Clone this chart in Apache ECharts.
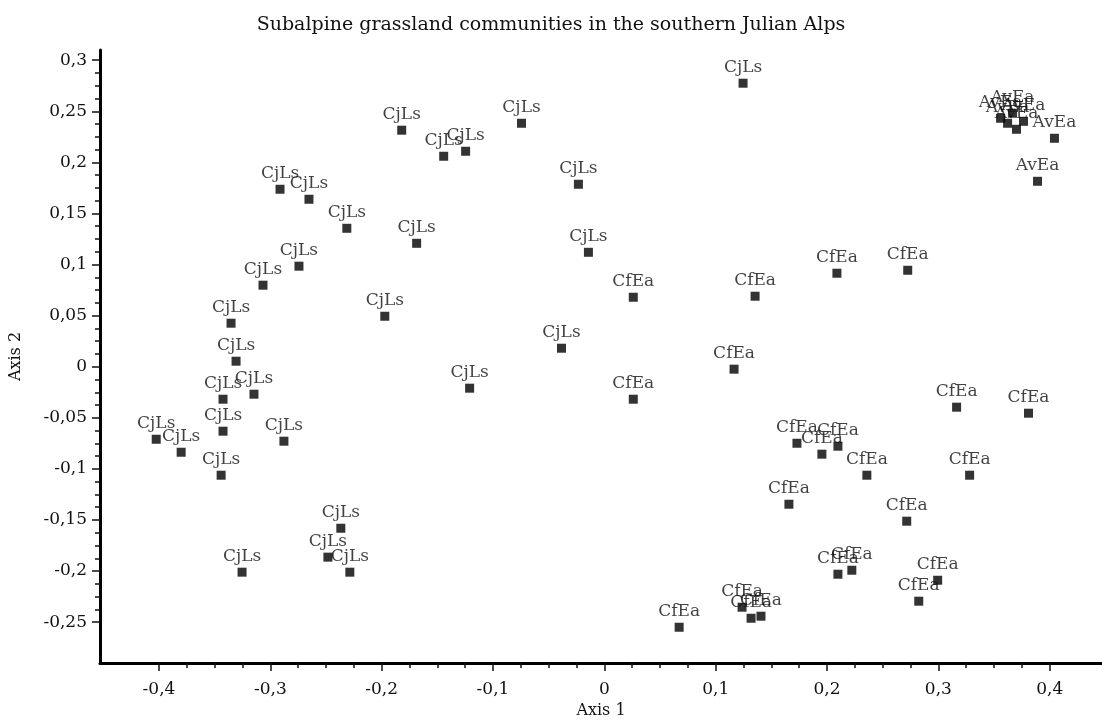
<!DOCTYPE html>
<html>
<head>
<meta charset="utf-8">
<title>Subalpine grassland communities</title>
<script src="https://cdn.jsdelivr.net/npm/echarts@6/dist/echarts.min.js"></script>
<style>
  html, body { margin: 0; padding: 0; background: #fff; }
  #chart { width: 1102px; height: 728px; }
</style>
</head>
<body>
<div id="chart"></div>
<script>
// 群落名称
const groups = ['CjLs', 'CfEa', 'AvEa'];

// CjLs 样点
const cjlsX = [0.1246, -0.182, -0.1443, -0.1246, -0.0744, -0.0233, -0.0143, -0.2913, -0.2653, -0.2313,
  -0.1686, -0.2743, -0.3066, -0.3353, -0.1972, -0.3308, -0.3425, -0.3147, -0.3425, -0.4025,
  -0.3801, -0.2878, -0.3442, -0.0385, -0.121, -0.2367, -0.2483, -0.3254, -0.2286];
const cjlsY = [0.2775, 0.2315, 0.206, 0.2109, 0.2383, 0.1786, 0.112, 0.1737, 0.1639, 0.1355,
  0.1208, 0.0984, 0.0798, 0.0426, 0.0494, 0.0054, -0.0318, -0.0269, -0.0631, -0.071,
  -0.0837, -0.0729, -0.1062, 0.0181, -0.021, -0.1581, -0.1864, -0.2011, -0.2011];

// CfEa 样点
const cfeaX = [0.026, 0.026, 0.1165, 0.1354, 0.2089, 0.2725, 0.3164, 0.381, 0.173, 0.1954,
  0.2098, 0.2358, 0.3281, 0.1658, 0.2716, 0.2098, 0.2223, 0.2994, 0.2824, 0.1237,
  0.1318, 0.1407, 0.0672];
const cfeaY = [0.068, -0.0318, -0.0024, 0.069, 0.0915, 0.0944, -0.0396, -0.0455, -0.0749, -0.0856,
  -0.0778, -0.1062, -0.1062, -0.1346, -0.1512, -0.2031, -0.1992, -0.209, -0.2295, -0.2354,
  -0.2462, -0.2442, -0.255];

// AvEa 样点
const aveaX = [0.3559, 0.3622, 0.3702, 0.3765, 0.3667, 0.4043, 0.3891];
const aveaY = [0.2432, 0.2383, 0.2324, 0.2402, 0.2481, 0.2236, 0.1815];

// 刻度
const xTicks = [-0.4, -0.3, -0.2, -0.1, 0, 0.1, 0.2, 0.3, 0.4];
const yTicks = [-0.25, -0.2, -0.15, -0.1, -0.05, 0, 0.05, 0.1, 0.15, 0.2, 0.25, 0.3];

const minorBetween = (ticks, parts) => {
  const out = [];
  for (let i = 0; i < ticks.length - 1; i++) {
    const step = (ticks[i + 1] - ticks[i]) / parts;
    for (let k = 1; k < parts; k++) out.push(+(ticks[i] + step * k).toFixed(5));
  }
  return out;
};
const xMinor = minorBetween(xTicks, 4);
const yMinor = minorBetween(yTicks, 4);

const FONT = '"DejaVu Serif", serif';
const TEXT = '#111';
const fmt = (v) => String(+v.toFixed(2)).replace('.', ',');

const zip = (xs, ys) => xs.map((x, i) => [x, ys[i]]);
const pointSets = [zip(cjlsX, cjlsY), zip(cfeaX, cfeaY), zip(aveaX, aveaY)];

const X_RANGE = { min: -0.453, max: 0.447 };
const Y_RANGE = { min: -0.29, max: 0.31 };

const baseAxis = (range) => ({
  type: 'value',
  min: range.min,
  max: range.max,
  splitLine: { show: false },
  axisLine: { show: false, onZero: false }
});

const option = {
  animation: false,
  backgroundColor: '#fff',
  title: {
    text: 'Subalpine grassland communities in the southern Julian Alps',
    left: 'center',
    top: 11,
    textStyle: { fontFamily: FONT, fontSize: 19, fontWeight: 'normal', color: TEXT }
  },
  grid: { left: 97, right: 0, top: 50, bottom: 65 },
  xAxis: [
    Object.assign(baseAxis(X_RANGE), {
      position: 'bottom',
      axisLine: { show: true, onZero: false, lineStyle: { color: '#000', width: 3 } },
      axisTick: { show: true, inside: false, length: 8, customValues: xTicks,
        lineStyle: { color: '#111', width: 1.5 } },
      axisLabel: { customValues: xTicks, formatter: fmt, margin: 18,
        fontFamily: FONT, fontSize: 17, color: TEXT },
      name: 'Axis 1',
      nameLocation: 'middle',
      nameGap: 38,
      nameTextStyle: { fontFamily: FONT, fontSize: 16, color: TEXT }
    }),
    Object.assign(baseAxis(X_RANGE), {
      position: 'bottom',
      axisTick: { show: true, inside: false, length: 5, customValues: xMinor,
        lineStyle: { color: '#111', width: 1.5 } },
      axisLabel: { show: false }
    })
  ],
  yAxis: [
    Object.assign(baseAxis(Y_RANGE), {
      position: 'left',
      axisLine: { show: true, onZero: false, lineStyle: { color: '#000', width: 3 } },
      axisTick: { show: true, inside: false, length: 8, customValues: yTicks,
        lineStyle: { color: '#111', width: 1.5 } },
      axisLabel: { customValues: yTicks, formatter: fmt, margin: 13,
        fontFamily: FONT, fontSize: 17, color: TEXT },
      name: 'Axis 2',
      nameLocation: 'middle',
      nameGap: 76,
      nameTextStyle: { fontFamily: FONT, fontSize: 16, color: TEXT }
    }),
    Object.assign(baseAxis(Y_RANGE), {
      position: 'left',
      axisTick: { show: true, inside: false, length: 5, customValues: yMinor,
        lineStyle: { color: '#111', width: 1.5 } },
      axisLabel: { show: false }
    })
  ],
  series: groups.map((name, i) => ({
    name,
    type: 'scatter',
    xAxisIndex: 0,
    yAxisIndex: 0,
    symbol: 'rect',
    symbolSize: 9,
    itemStyle: { color: '#000' },
    label: {
      show: true,
      position: 'top',
      distance: 3,
      formatter: (p) => p.seriesName,
      fontFamily: FONT,
      fontSize: 17,
      color: TEXT
    },
    data: pointSets[i]
  }))
};

const chart = echarts.init(document.getElementById('chart'));
chart.setOption(option);
window.addEventListener('resize', () => chart.resize());
</script>
</body>
</html>
